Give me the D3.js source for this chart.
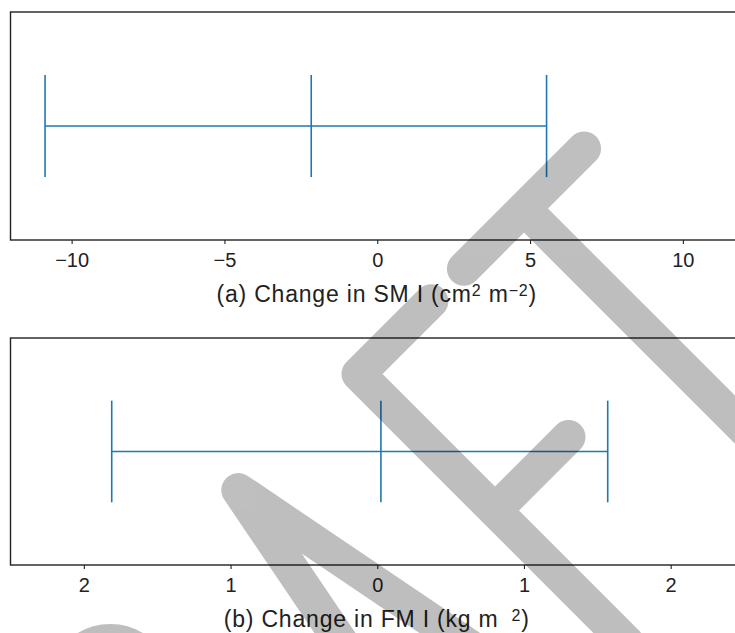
<!DOCTYPE html>
<html><head><meta charset="utf-8">
<script src="https://cdn.jsdelivr.net/npm/d3@7"></script>
<style>
body{margin:0;background:#fff}
svg{display:block}
text{font-family:"Liberation Sans",Arial,sans-serif;fill:#222}
</style>
</head><body>
<svg id="chart" width="735" height="633"></svg>
<script>
// ---- data ----
const panelIds = ["a", "b"];
const intervalLow = [-10.87, -1.81];
const intervalMid = [-2.16, 0.025];
const intervalHigh = [5.54, 1.571];
const xDomainA = [-12, 12];
const xDomainB = [-2.5, 2.5];
const tickValuesA = [-10, -5, 0, 5, 10];
const tickLabelsA = ["\u221210", "\u22125", "0", "5", "10"];
const tickValuesB = [-2, -1, 0, 1, 2];
const tickLabelsB = ["2", "1", "0", "1", "2"];
const watermarkText = "DRAFT";

// ---- layout ----
const svg = d3.select("#chart");
const left = 10.5, right = 744;
const panels = [
  {top: 12, bottom: 240, domain: xDomainA, ticks: tickValuesA, labels: tickLabelsA,
   label: [{t: "(a) Change in SM I (cm"}, {t: "2", sup: true}, {t: " m"}, {t: "\u22122", sup: true}, {t: ")"}]},
  {top: 338, bottom: 565, domain: xDomainB, ticks: tickValuesB, labels: tickLabelsB,
   label: [{t: "(b) Change in FM I (kg m"}, {t: "2", sup: true, dx: 13}, {t: ")"}]}
];
const capHalf = 0.224;
const blue = "#1f77b4";

panels.forEach((p, i) => {
  const x = d3.scaleLinear().domain(p.domain).range([left, right]);
  const y = d3.scaleLinear().domain([0, 1]).range([p.bottom, p.top]);
  const g = svg.append("g");

  // error bar
  const row = [{lo: intervalLow[i], mid: intervalMid[i], hi: intervalHigh[i], id: panelIds[i]}];
  const eb = g.selectAll(".eb").data(row).join("g").attr("class", "eb")
    .attr("stroke", blue).attr("stroke-width", 1.6).attr("fill", "none");
  eb.append("line").attr("x1", d => x(d.lo)).attr("x2", d => x(d.hi))
    .attr("y1", y(0.5)).attr("y2", y(0.5));
  ["lo", "mid", "hi"].forEach(k => {
    eb.append("line").attr("x1", d => x(d[k])).attr("x2", d => x(d[k]))
      .attr("y1", y(0.5 - capHalf)).attr("y2", y(0.5 + capHalf));
  });

  // frame
  g.append("rect").attr("x", left).attr("y", p.top)
    .attr("width", right - left).attr("height", p.bottom - p.top)
    .attr("fill", "none").attr("stroke", "#222").attr("stroke-width", 1.4);

  // axis
  const ax = g.append("g").attr("transform", `translate(0,${p.bottom})`)
    .call(d3.axisBottom(x).tickValues(p.ticks).tickFormat((d, j) => p.labels[j])
      .tickSize(4).tickPadding(8.5));
  ax.select(".domain").remove();
  ax.selectAll(".tick line").attr("stroke", "#222").attr("stroke-width", 1.1);
  ax.selectAll(".tick text").attr("font-size", 20).attr("fill", "#222")
    .attr("font-family", '"Liberation Sans",Arial,sans-serif');

  // axis label
  const t = g.append("text").attr("x", (left + 743) / 2).attr("y", p.bottom + 62)
    .attr("text-anchor", "middle").attr("font-size", 23).attr("letter-spacing", 0.8);
  p.label.forEach(s => {
    const ts = t.append("tspan").text(s.t);
    if (s.sup) ts.attr("font-size", 16).attr("baseline-shift", "38%");
    if (s.dx) ts.attr("dx", s.dx);
  });
});

// ---- watermark (decorative, stroked letters in a rotated frame) ----
const wm = svg.append("g").attr("opacity", 0.25)
  .attr("transform", "rotate(-45)")
  .attr("fill", "none").attr("stroke", "#000").attr("stroke-width", 34)
  .attr("stroke-linecap", "round").attr("stroke-linejoin", "round");
wm.append("title").text(watermarkText);
const letterPaths = [
  "M-830,518 L-740,518 A190,190 0 0 1 -740,898 L-830,898 Z",
  "M-520,898 L-520,518 L-407,518 A45,45 0 0 1 -407,608 L-520,608 M-440,608 L-340,898",
  "M-252,898 L-178,515 L-104,898 M-229,780 L-127,780",
  "M92,518 L-11,518 L-11,898 M-11,711 L93,711",
  "M138,518 L308,518 M223,518 L223,898"
];
wm.selectAll("path").data(letterPaths).join("path").attr("d", d => d);
</script>
</body></html>
